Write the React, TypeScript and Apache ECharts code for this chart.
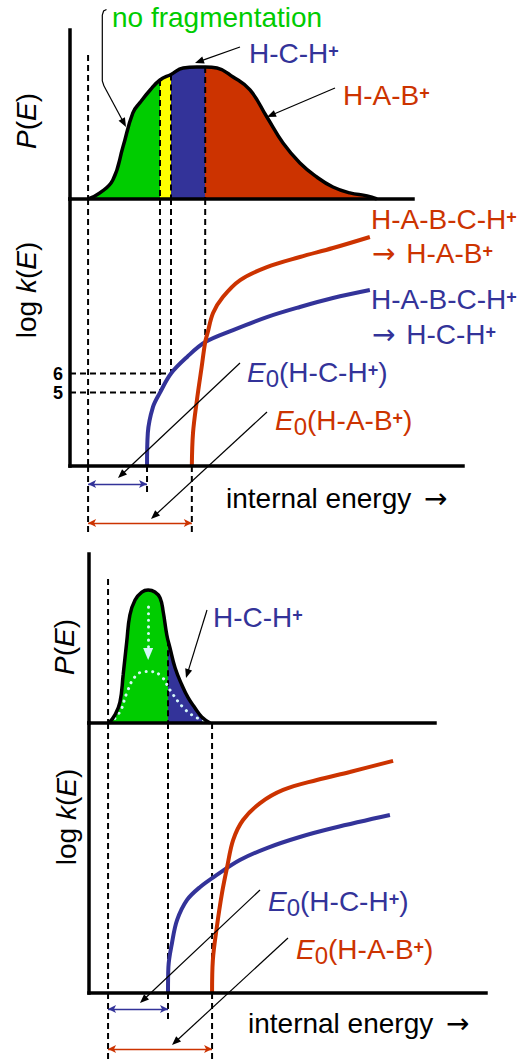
import React, { useEffect, useRef } from "react";
import * as echarts from "echarts";

// ---------------- data (energy in arbitrary units, P normalised, log k) ----------------
// upper panel: broad internal-energy distribution
const TOP_P_CURVE: number[][] = [
  [4.6, 0.0], [7.6, 0.036], [10.9, 0.112], [13.5, 0.31], [16.0, 0.51], [17.8, 0.57],
  [20.4, 0.645], [22.9, 0.704], [25.7, 0.737], [28.8, 0.775], [32.3, 0.781], [34.4, 0.781],
  [37.4, 0.775], [41.5, 0.722], [45.8, 0.645], [50.1, 0.485], [54.2, 0.331], [58.5, 0.213],
  [62.8, 0.13], [66.9, 0.071], [71.2, 0.036], [75.6, 0.018], [78.1, 0.0],
];
const TOP_K_HAB: number[][] = [
  [31.0, 1.15], [31.3, 2.88], [32.3, 4.61], [33.5, 6.34], [34.4, 7.65], [35.0, 8.12],
  [36.4, 9.17], [38.9, 10.01], [43.3, 10.9], [50.1, 11.58], [58.5, 12.11], [66.9, 12.58], [76.3, 13.16],
];
const TOP_K_HCH: number[][] = [
  [19.6, 1.15], [19.8, 2.88], [21.1, 4.24], [22.9, 5.0], [25.7, 6.0], [29.8, 6.87],
  [34.4, 7.65], [41.5, 8.28], [50.1, 8.96], [58.5, 9.49], [66.9, 9.96], [76.3, 10.38],
];
// key energies of the upper panel
const TOP_E = [4.6, 19.6, 22.9, 25.7, 31.0, 34.4]; // onset, E0(HCH), logk=5, logk=6, E0(HAB), crossing
const TOP_P_AT_E = [0.852, 0, 0.704, 0.737, 0, 0.781];
const TOP_K_CROSS = 7.65;
const LOGK_TICKS = [5, 6];

// lower panel: narrow distribution
const BOT_P_CURVE: number[][] = [
  [5.0, 0.0], [6.5, 0.047], [7.8, 0.124], [8.6, 0.284], [9.5, 0.479], [10.3, 0.639],
  [11.6, 0.728], [13.3, 0.775], [14.9, 0.787], [16.6, 0.775], [17.9, 0.74], [18.7, 0.657],
  [19.6, 0.521], [20.4, 0.444], [21.7, 0.325], [23.4, 0.225], [25.0, 0.148], [26.7, 0.089],
  [28.4, 0.036], [30.5, 0.0],
];
const BOT_P_COOLED: number[][] = [
  [5.3, 0.0], [7.8, 0.067], [9.5, 0.176], [11.6, 0.274], [14.1, 0.304], [15.6, 0.304],
  [18.3, 0.274], [20.4, 0.195], [23.8, 0.09], [26.7, 0.037], [30.5, 0.0],
];
const BOT_K_HAB: number[][] = [
  [31.0, 1.15], [31.2, 2.88], [32.2, 4.61], [33.5, 6.39], [34.8, 7.76], [36.3, 9.17],
  [38.8, 10.22], [43.1, 11.11], [48.9, 11.8], [57.4, 12.32], [65.7, 12.74], [76.6, 13.32],
];
const BOT_K_HCH: number[][] = [
  [19.9, 1.15], [20.0, 2.51], [20.9, 3.77], [22.2, 4.98], [24.7, 6.03], [28.0, 6.71],
  [32.2, 7.34], [38.0, 8.12], [44.8, 8.75], [53.1, 9.33], [61.5, 9.8], [75.8, 10.48],
];
const BOT_E = [4.8, 19.9, 31.0]; // onset, E0(HCH), E0(HAB)
const BOT_P_AT_E = [0.852, 0.49, 0];
const COOL_ARROW_E = 14.9;
const COOL_ARROW_P = [0.686, 0.408];

// ---------------- styling ----------------
const GREEN = "#00CC00";
const YELLOW = "#FFFF00";
const BLUE = "#333399";
const RED = "#CC3300";
const DOT = "#d4f8f8";
const FF = "'Liberation Sans', Arial, Helvetica, sans-serif";
const K_MIN = 1.15;
const K_PX = 19.07; // px per log k unit

function buildOption(): any {
  const grids = [
    { left: 70, top: 30, width: 343, height: 169 },
    { left: 70, top: 199, width: 393, height: 267 },
    { left: 70, top: 466, width: 393, height: 70 },
    { left: 89, top: 554, width: 346, height: 169 },
    { left: 89, top: 723, width: 397, height: 270 },
    { left: 89, top: 993, width: 397, height: 67 },
  ].map((g) => ({ ...g, containLabel: false, outerBoundsMode: "none", show: false }));

  const kMaxTop = K_MIN + 267 / K_PX;
  const kMaxBot = K_MIN + 270 / K_PX;

  const axisLine = { show: true, onZero: false, lineStyle: { color: "#000", width: 3.5, cap: "square" } };
  const hidden = { axisTick: { show: false }, axisLabel: { show: false }, splitLine: { show: false } };
  const xAxis = [
    { gridIndex: 0, type: "value", min: 0, max: (100 * 343) / 393, axisLine, ...hidden, z: 10 },
    { gridIndex: 1, type: "value", min: 0, max: 100, axisLine, ...hidden, z: 10 },
    { gridIndex: 2, type: "value", min: 0, max: 100, show: false },
    { gridIndex: 3, type: "value", min: 0, max: (100 * 346) / 397, axisLine, ...hidden, z: 10 },
    { gridIndex: 4, type: "value", min: 0, max: 100, axisLine, ...hidden, z: 10 },
    { gridIndex: 5, type: "value", min: 0, max: 100, show: false },
  ];
  const yAxis = [
    { gridIndex: 0, type: "value", min: 0, max: 1, axisLine, ...hidden, z: 10 },
    {
      gridIndex: 1, type: "value", min: K_MIN, max: kMaxTop, axisLine, ...hidden, z: 10,
      axisLabel: {
        show: true, customValues: LOGK_TICKS, fontWeight: "bold", fontSize: 18, color: "#000",
        fontFamily: FF, margin: 7, formatter: (v: number) => String(Math.round(v)),
      },
    },
    { gridIndex: 2, type: "value", min: 0, max: 1, show: false },
    { gridIndex: 3, type: "value", min: 0, max: 1, axisLine, ...hidden, z: 10 },
    { gridIndex: 4, type: "value", min: K_MIN, max: kMaxBot, axisLine, ...hidden, z: 10 },
    { gridIndex: 5, type: "value", min: 0, max: 1, show: false },
  ];

  const series: any[] = [];
  const add = (s: any) => {
    series.push({ type: "line", showSymbol: false, symbol: "none", silent: true, animation: false, ...s });
    return series.length - 1;
  };
  const dashed = (g: number, pts: number[][], extra: any = {}) =>
    add({ xAxisIndex: g, yAxisIndex: g, data: pts, z: 4, lineStyle: { color: "#000", width: 2, type: [6, 4] }, ...extra });
  const doubleArrow = (y: number, e1: number, e2: number, color: string) => [
    { coord: [e1, y], lineStyle: { color, width: 1.3, type: "solid" } },
    { coord: [e2, y] },
  ];

  // ---- upper panel ----
  const topArea = add({
    xAxisIndex: 0, yAxisIndex: 0, data: TOP_P_CURVE, smooth: 0.45, z: 1,
    lineStyle: { width: 0 }, areaStyle: { opacity: 1 },
  });
  TOP_E.forEach((e, i) => {
    if (TOP_P_AT_E[i] > 0) dashed(0, [[e, TOP_P_AT_E[i]], [e, 0]]);
  });
  add({ xAxisIndex: 0, yAxisIndex: 0, data: TOP_P_CURVE, smooth: 0.45, z: 6, lineStyle: { color: "#000", width: 3.5 } });

  dashed(1, [[TOP_E[0], kMaxTop], [TOP_E[0], K_MIN]]);
  dashed(1, [[TOP_E[2], kMaxTop], [TOP_E[2], LOGK_TICKS[0]]]);
  dashed(1, [[TOP_E[3], kMaxTop], [TOP_E[3], LOGK_TICKS[1]]]);
  dashed(1, [[TOP_E[5], kMaxTop], [TOP_E[5], TOP_K_CROSS]]);
  dashed(1, [[0, LOGK_TICKS[1]], [TOP_E[3], LOGK_TICKS[1]]]);
  dashed(1, [[0, LOGK_TICKS[0]], [TOP_E[2], LOGK_TICKS[0]]]);
  add({ xAxisIndex: 1, yAxisIndex: 1, data: TOP_K_HCH, smooth: 0.35, z: 5, lineStyle: { color: BLUE, width: 4 } });
  add({ xAxisIndex: 1, yAxisIndex: 1, data: TOP_K_HAB, smooth: 0.35, z: 5, lineStyle: { color: RED, width: 4 } });

  dashed(2, [[TOP_E[0], 1], [TOP_E[0], 0.043]]);
  dashed(2, [[TOP_E[1], 1], [TOP_E[1], 0.6]]);
  dashed(2, [[TOP_E[4], 1], [TOP_E[4], 0.043]], {
    markLine: {
      silent: true, animation: false, symbol: ["arrow", "arrow"], symbolSize: [6, 8], label: { show: false },
      data: [doubleArrow(0.743, TOP_E[0], TOP_E[1], BLUE), doubleArrow(0.186, TOP_E[0], TOP_E[4], RED)],
    },
  });

  // ---- lower panel ----
  const botArea = add({
    xAxisIndex: 3, yAxisIndex: 3, data: BOT_P_CURVE, smooth: 0.45, z: 1,
    lineStyle: { width: 0 }, areaStyle: { opacity: 1 },
  });
  BOT_E.forEach((e, i) => {
    if (BOT_P_AT_E[i] > 0) dashed(3, [[e, BOT_P_AT_E[i]], [e, 0]]);
  });
  add({
    xAxisIndex: 3, yAxisIndex: 3, data: BOT_P_COOLED, smooth: 0.45, z: 5,
    lineStyle: { color: DOT, width: 3, type: [0.1, 6.5], cap: "round" },
    markLine: {
      silent: true, animation: false, symbol: ["none", "triangle"], symbolSize: [10, 12], label: { show: false },
      lineStyle: { color: DOT, width: 3, type: [0.1, 6.5], cap: "round" },
      data: [[{ coord: [COOL_ARROW_E, COOL_ARROW_P[0]] }, { coord: [COOL_ARROW_E, COOL_ARROW_P[1]] }]],
    },
  });
  add({ xAxisIndex: 3, yAxisIndex: 3, data: BOT_P_CURVE, smooth: 0.45, z: 6, lineStyle: { color: "#000", width: 3.5 } });

  BOT_E.forEach((e) => dashed(4, [[e, kMaxBot], [e, K_MIN]]));
  add({ xAxisIndex: 4, yAxisIndex: 4, data: BOT_K_HCH, smooth: 0.35, z: 5, lineStyle: { color: BLUE, width: 4 } });
  add({ xAxisIndex: 4, yAxisIndex: 4, data: BOT_K_HAB, smooth: 0.35, z: 5, lineStyle: { color: RED, width: 4 } });

  dashed(5, [[BOT_E[0], 1], [BOT_E[0], 0]]);
  dashed(5, [[BOT_E[1], 1], [BOT_E[1], 0.597]]);
  dashed(5, [[BOT_E[2], 1], [BOT_E[2], 0]], {
    markLine: {
      silent: true, animation: false, symbol: ["arrow", "arrow"], symbolSize: [6, 8], label: { show: false },
      data: [doubleArrow(0.761, BOT_E[0], BOT_E[1], BLUE), doubleArrow(0.164, BOT_E[0], BOT_E[2], RED)],
    },
  });

  const visualMap = [
    {
      type: "piecewise", show: false, seriesIndex: topArea, dimension: 0,
      pieces: [
        { lt: TOP_E[2], color: GREEN },
        { gte: TOP_E[2], lt: TOP_E[3], color: YELLOW },
        { gte: TOP_E[3], lt: TOP_E[5], color: BLUE },
        { gte: TOP_E[5], color: RED },
      ],
    },
    {
      type: "piecewise", show: false, seriesIndex: botArea, dimension: 0,
      pieces: [
        { lt: BOT_E[1], color: GREEN },
        { gte: BOT_E[1], lt: BOT_E[2], color: BLUE },
        { gte: BOT_E[2], color: BLUE },
      ],
    },
  ];

  // ---- annotations ----
  const rich = (color: string) => ({
    t: { fontSize: 28, fontFamily: FF, fill: color },
    i: { fontSize: 28, fontFamily: FF, fontStyle: "italic", fill: color },
    arr: { fontSize: 28, fontFamily: "'DejaVu Sans', sans-serif", fill: color, padding: [0, 3, 0, 0] },
    arrR: { fontSize: 28, fontFamily: "'DejaVu Sans', sans-serif", fill: color, padding: [0, 0, 0, 5] },
    sup: { fontSize: 18, fontFamily: FF, fontWeight: "bold", fill: color, padding: [0, 0, 5, 0] },
    sub: { fontSize: 24, fontFamily: FF, fill: color, padding: [12, 0, 0, 0] },
  });
  const label = (x: number, y: number, text: string, color: string, extra: any = {}) => ({
    type: "text", x, y, z: 100, silent: true, ...extra,
    style: { text, rich: rich(color), fill: color, fontSize: 28, fontFamily: FF, align: extra.align || "left", verticalAlign: "middle" },
  });
  const vlabel = (x: number, y: number, text: string) =>
    label(x, y, text, "#000", { rotation: Math.PI / 2, align: "center" });

  const pointer = (x1: number, y1: number, x2: number, y2: number, color = "#000") => {
    const dx = x2 - x1, dy = y2 - y1, len = Math.hypot(dx, dy);
    const ux = dx / len, uy = dy / len, hl = 9, hw = 3.6;
    const bx = x2 - ux * hl, by = y2 - uy * hl;
    return [
      { type: "line", z: 100, silent: true, shape: { x1, y1, x2: bx + ux * 2, y2: by + uy * 2 }, style: { stroke: color, lineWidth: 1.2 } },
      {
        type: "polygon", z: 100, silent: true,
        shape: { points: [[x2, y2], [bx - uy * hw, by + ux * hw], [bx + uy * hw, by - ux * hw]] },
        style: { fill: color },
      },
    ];
  };

  const graphic = [
    // upper panel
    label(112, 17, "{t|no fragmentation}", GREEN),
    { type: "polyline", z: 100, silent: true, shape: { points: [[106.5, 9.5], [103.6, 11], [102.3, 15], [102.3, 81], [104, 86]] }, style: { stroke: "#000", lineWidth: 1.2, fill: null } },
    ...pointer(104, 86, 126, 127),
    label(249, 53, "{t|H-C-H}{sup|+}", BLUE),
    ...pointer(240, 47, 195, 63),
    label(343, 95, "{t|H-A-B}{sup|+}", RED),
    ...pointer(335, 88, 267, 117),
    label(371, 219, "{t|H-A-B-C-H}{sup|+}", RED),
    label(372, 253, "{arr|→}{t| H-A-B}{sup|+}", RED),
    label(371, 299, "{t|H-A-B-C-H}{sup|+}", BLUE),
    label(372, 334, "{arr|→}{t| H-C-H}{sup|+}", BLUE),
    label(247, 372, "{i|E}{sub|0}{t|(H-C-H}{sup|+}{t|)}", BLUE),
    ...pointer(240, 363, 118, 478),
    label(275, 420, "{i|E}{sub|0}{t|(H-A-B}{sup|+}{t|)}", RED),
    ...pointer(267, 412, 151, 519),
    label(226, 498, "{t|internal energy }{arrR|→}", "#000"),
    vlabel(26, 121, "{i|P}{t|(}{i|E}{t|)}"),
    vlabel(26, 290, "{t|log }{i|k}{t|(}{i|E}{t|)}"),
    // lower panel
    label(213, 617, "{t|H-C-H}{sup|+}", BLUE),
    ...pointer(207, 610, 186, 678),
    label(268, 901, "{i|E}{sub|0}{t|(H-C-H}{sup|+}{t|)}", BLUE),
    ...pointer(260, 890, 140, 1003),
    label(296, 949, "{i|E}{sub|0}{t|(H-A-B}{sup|+}{t|)}", RED),
    ...pointer(288, 938, 172, 1045),
    label(248, 1023, "{t|internal energy }{arrR|→}", "#000"),
    vlabel(64, 647, "{i|P}{t|(}{i|E}{t|)}"),
    vlabel(66, 817, "{t|log }{i|k}{t|(}{i|E}{t|)}"),
  ];

  return {
    animation: false,
    backgroundColor: "#ffffff",
    grid: grids,
    xAxis,
    yAxis,
    visualMap,
    series,
    graphic: { elements: graphic },
  };
}

export default function App() {
  const ref = useRef<HTMLDivElement>(null);
  useEffect(() => {
    if (!ref.current) return;
    const chart = echarts.init(ref.current, null, { renderer: "svg" });
    chart.setOption(buildOption());
    return () => chart.dispose();
  }, []);
  return (
    <div
      ref={ref}
      style={{ position: "fixed", left: 0, top: 0, width: 524, height: 1060, background: "#fff" }}
    />
  );
}
